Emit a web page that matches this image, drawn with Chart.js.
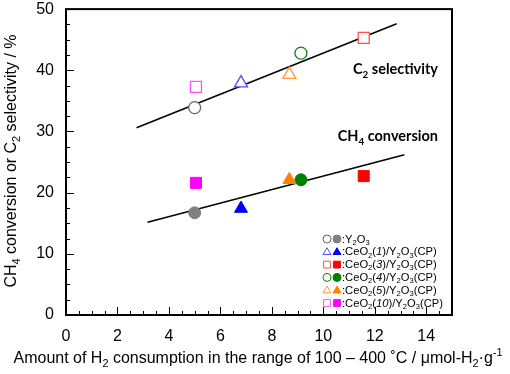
<!DOCTYPE html>
<html lang="en">
  <head>
    <meta charset="UTF-8" />
    <title>CH4 conversion / C2 selectivity vs H2 consumption</title>
    <script src="https://cdn.jsdelivr.net/npm/chart.js"></script>
    <style>
      body { margin: 0; background: #fff; }
    </style>
  </head>
  <body>
    <canvas id="chart_main" width="510" height="374"></canvas>

    <script>
      // values
      const samples = ['Y2O3', 'CeO2(1)', 'CeO2(3)', 'CeO2(4)', 'CeO2(5)', 'CeO2(10)'];
      const h2Consumption = [5.0, 6.8, 11.57, 9.13, 8.68, 5.05];
      const c2Selectivity = [33.9, 37.9, 45.3, 42.8, 39.3, 37.3];
      const ch4Conversion = [16.7, 17.4, 22.7, 22.1, 22.1, 21.6];

      const c2FitX = [2.74, 12.85];
      const c2FitY = [30.6, 47.6];
      const ch4FitX = [3.17, 13.15];
      const ch4FitY = [15.15, 26.2];

      const xTickValues = [0, 2, 4, 6, 8, 10, 12, 14];
      const yTickValues = [0, 10, 20, 30, 40, 50];

      const markerStyles = ['circle', 'triangle', 'rect', 'circle', 'triangle', 'rect'];
      const openColors = ['#666666', '#4f4fff', '#ff4f4f', '#1a7a1a', '#ff9933', '#ff4fff'];
      const fillColors = ['#808080', '#0000ff', '#ff0000', '#008000', '#ff8000', '#ff00ff'];
      const markerRadius = [6, 7.5, 7.8, 6, 7.5, 7.8];

      const legendLabels = [
        [[':Y'], ['2', 'sub'], ['O'], ['3', 'sub']],
        [[':CeO'], ['2', 'sub'], ['('], ['1', 'it'], [')/Y'], ['2', 'sub'], ['O'], ['3', 'sub'], ['(CP)']],
        [[':CeO'], ['2', 'sub'], ['('], ['3', 'it'], [')/Y'], ['2', 'sub'], ['O'], ['3', 'sub'], ['(CP)']],
        [[':CeO'], ['2', 'sub'], ['('], ['4', 'it'], [')/Y'], ['2', 'sub'], ['O'], ['3', 'sub'], ['(CP)']],
        [[':CeO'], ['2', 'sub'], ['('], ['5', 'it'], [')/Y'], ['2', 'sub'], ['O'], ['3', 'sub'], ['(CP)']],
        [[':CeO'], ['2', 'sub'], ['('], ['10', 'it'], [')/Y'], ['2', 'sub'], ['O'], ['3', 'sub'], ['(CP)']],
      ];

      const FONT = 'Liberation Sans, Arial, sans-serif';

      function toPoints(xs, ys) {
        return xs.map((x, i) => ({ x: x, y: ys[i] }));
      }

      // text with sub/superscripts, returns the width
      function drawRich(ctx, segs, x, y, size, family, weight, dryRun) {
        let cx = x;
        segs.forEach((s) => {
          const kind = s[1];
          let sz = size;
          let dy = 0;
          let style = '';
          if (kind === 'sub') { sz = size * 0.68; dy = size * 0.28; }
          if (kind === 'sup') { sz = size * 0.68; dy = -size * 0.42; }
          if (kind === 'it') { style = 'italic '; }
          ctx.font = style + (weight || '') + ' ' + sz + 'px ' + family;
          if (!dryRun) ctx.fillText(s[0], cx, y + dy);
          cx += ctx.measureText(s[0]).width;
        });
        return cx - x;
      }

      function drawMarker(ctx, style, x, y, r, stroke, fill, lw) {
        ctx.save();
        ctx.beginPath();
        if (style === 'circle') {
          ctx.arc(x, y, r, 0, Math.PI * 2);
        } else if (style === 'triangle') {
          const h = r * 1.7;
          ctx.moveTo(x, y - h * 0.6);
          ctx.lineTo(x + r, y + h * 0.4);
          ctx.lineTo(x - r, y + h * 0.4);
          ctx.closePath();
        } else {
          ctx.rect(x - r * 0.85, y - r * 0.85, r * 1.7, r * 1.7);
        }
        ctx.fillStyle = fill;
        ctx.fill();
        ctx.lineWidth = lw;
        ctx.strokeStyle = stroke;
        ctx.stroke();
        ctx.restore();
      }

      const framePlugin = {
        id: 'frame',
        afterDraw(chart) {
          const ctx = chart.ctx;
          const a = chart.chartArea;
          const xs = chart.scales.x;
          const ys = chart.scales.y;

          ctx.save();
          ctx.strokeStyle = '#000';
          ctx.lineWidth = 2;
          ctx.strokeRect(a.left, a.top, a.right - a.left, a.bottom - a.top);

          // inward ticks
          ctx.lineWidth = 1;
          ctx.beginPath();
          for (let v = 0.5; v < 15; v += 0.5) {
            const px = Math.round(xs.getPixelForValue(v)) + 0.5;
            const len = v % 2 === 0 ? 8 : 4;
            ctx.moveTo(px, a.bottom);
            ctx.lineTo(px, a.bottom - len);
          }
          for (let v = 2.5; v < 50; v += 2.5) {
            const py = Math.round(ys.getPixelForValue(v)) + 0.5;
            const len = v % 10 === 0 ? 8 : 4;
            ctx.moveTo(a.left, py);
            ctx.lineTo(a.left + len, py);
          }
          ctx.stroke();

          // annotations
          ctx.fillStyle = '#000';
          ctx.textBaseline = 'alphabetic';
          const annFont = 'Lato, "Open Sans", sans-serif';
          let w = drawRich(ctx, [['C'], ['2', 'sub'], [' selectivity']], 0, 0, 14.5, annFont, 'bold', true);
          drawRich(ctx, [['C'], ['2', 'sub'], [' selectivity']], 438 - w, 74, 14.5, annFont, 'bold');
          w = drawRich(ctx, [['CH'], ['4', 'sub'], [' conversion']], 0, 0, 14.5, annFont, 'bold', true);
          drawRich(ctx, [['CH'], ['4', 'sub'], [' conversion']], 438 - w, 141, 14.5, annFont, 'bold');

          // axis titles
          const xTitle = [['Amount of H'], ['2', 'sub'], [' consumption in the range of 100 \u2013 400 \u02DAC / \u03BCmol-H'], ['2', 'sub'], ['\u00B7g'], ['-1', 'sup']];
          w = drawRich(ctx, xTitle, 0, 0, 16, FONT, '', true);
          drawRich(ctx, xTitle, 258 - w / 2, 363, 16, FONT, '');

          const yTitle = [['CH'], ['4', 'sub'], [' conversion or C'], ['2', 'sub'], [' selectivity / %']];
          w = drawRich(ctx, yTitle, 0, 0, 16, FONT, '', true);
          ctx.save();
          ctx.translate(15.5, 161);
          ctx.rotate(-Math.PI / 2);
          drawRich(ctx, yTitle, -w / 2, 0, 16, FONT, '');
          ctx.restore();

          // legend
          samples.forEach((s, i) => {
            const ly = 239 + i * 12.8;
            drawMarker(ctx, markerStyles[i], 327, ly, 4, openColors[i], '#fff', 1);
            drawMarker(ctx, markerStyles[i], 337, ly, 4, fillColors[i], fillColors[i], 1);
            ctx.fillStyle = '#000';
            ctx.textBaseline = 'middle';
            drawRich(ctx, legendLabels[i], 342, ly + 0.5, 11.2, FONT, '');
          });
          ctx.restore();
        },
      };

      new Chart(document.getElementById('chart_main'), {
        type: 'scatter',
        data: {
          datasets: [
            {
              label: 'C2 selectivity',
              data: toPoints(h2Consumption, c2Selectivity),
              pointStyle: markerStyles,
              pointRadius: markerRadius,
              borderColor: openColors,
              backgroundColor: '#ffffff',
              borderWidth: 1.3,
              order: 0,
            },
            {
              label: 'CH4 conversion',
              data: toPoints(h2Consumption, ch4Conversion),
              pointStyle: markerStyles,
              pointRadius: markerRadius,
              borderColor: fillColors,
              backgroundColor: fillColors,
              borderWidth: 1,
              order: 0,
            },
            {
              label: 'C2 fit',
              data: toPoints(c2FitX, c2FitY),
              showLine: true,
              pointRadius: 0,
              borderColor: '#000',
              borderWidth: 1.5,
              order: 1,
            },
            {
              label: 'CH4 fit',
              data: toPoints(ch4FitX, ch4FitY),
              showLine: true,
              pointRadius: 0,
              borderColor: '#000',
              borderWidth: 1.5,
              order: 1,
            },
          ],
        },
        options: {
          responsive: false,
          animation: false,
          layout: { padding: { top: 8, right: 58, left: 0, bottom: 0 } },
          plugins: { legend: { display: false }, tooltip: { enabled: false } },
          scales: {
            x: {
              type: 'linear',
              min: 0,
              max: 15,
              grid: { display: false, drawTicks: false },
              border: { display: false },
              afterBuildTicks: (scale) => { scale.ticks = xTickValues.map((v) => ({ value: v })); },
              afterFit: (scale) => {
                scale.height = 59;
                scale.paddingLeft = 0;
                scale.paddingRight = 0;
              },
              ticks: { color: '#000', font: { size: 16, family: FONT }, padding: 12, maxRotation: 0 },
            },
            y: {
              min: 0,
              max: 50,
              grid: { display: false, drawTicks: false },
              border: { display: false },
              afterBuildTicks: (scale) => { scale.ticks = yTickValues.map((v) => ({ value: v })); },
              afterFit: (scale) => {
                scale.width = 66;
                scale.paddingTop = 0;
                scale.paddingBottom = 0;
              },
              ticks: { color: '#000', font: { size: 16, family: FONT }, padding: 12 },
            },
          },
        },
        plugins: [framePlugin],
      });
    </script>
  </body>
</html>
